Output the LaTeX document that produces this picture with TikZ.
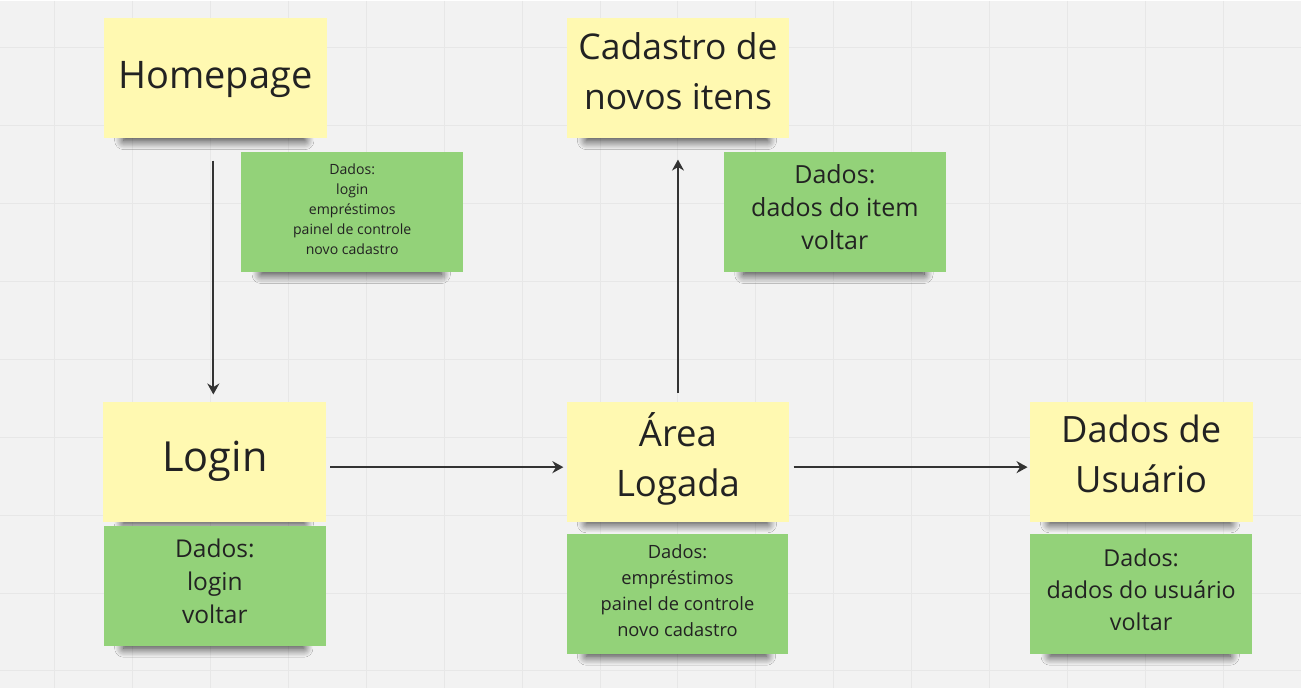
\documentclass[tikz,border=0pt]{standalone}
\usepackage{fontspec}
\setmainfont{Open Sans}
\usepackage{tikz}
\usetikzlibrary{arrows.meta,shadows.blur,backgrounds}

\definecolor{boardbg}{RGB}{242,242,242}
\definecolor{gridcol}{RGB}{231,231,231}
\definecolor{stickyyellow}{RGB}{255,249,177}
\definecolor{stickygreen}{RGB}{147,210,121}
\definecolor{inkcol}{RGB}{34,34,34}
\definecolor{arrowcol}{RGB}{51,51,51}

\tikzset{
    note/.style={inner sep=0pt, align=center, text=inkcol,
        execute at begin node=\strut, execute at end node=\strut},
    yellownote/.style={note, fill=stickyyellow, minimum width=223pt, minimum height=120pt},
    greennote/.style={note, fill=stickygreen, minimum width=222pt, minimum height=120pt},
    notedrop/.style={blur shadow={shadow xshift=0pt, shadow yshift=0pt,
        shadow blur radius=9pt, shadow blur steps=16, shadow opacity=80}},
    flow/.style={draw=arrowcol, line width=2pt, -{Stealth[length=11pt,width=12pt]}}
}

\begin{document}
\begin{tikzpicture}[x=1pt, y=-1pt]
        % board
        \begin{scope}[on background layer]
        \fill[boardbg] (0,0) rectangle (1301,688);
        \foreach \gx in {54,132,...,1300}
            \draw[gridcol, line width=1pt] (\gx,0) -- (\gx,688);
        \foreach \gy in {47,125,...,688}
            \draw[gridcol, line width=1pt] (0,\gy) -- (1301,\gy);
        \end{scope}
        \useasboundingbox (0,0) rectangle (1301,688);

        % pages
        \node[yellownote, font=\fontsize{38}{48}\selectfont] (home) at (215,78) {Homepage};
        \node[yellownote, font=\fontsize{35.5}{50}\selectfont] (cadastro) at (678,78) {Cadastro de\\novos itens};
        \node[yellownote, font=\fontsize{41.5}{50}\selectfont] (login) at (214.5,461.5) {Login};
        \node[yellownote, font=\fontsize{36.5}{50}\selectfont] (area) at (678,461.5) {Área\\Logada};
        \node[yellownote, font=\fontsize{36.3}{50}\selectfont] (usuario) at (1141.5,461.5) {Dados de\\Usuário};

        % dados
        \node[greennote, font=\fontsize{14.1}{20}\selectfont] (homedata) at (352,212)
            {Dados:\\login\\empréstimos\\painel de controle\\novo cadastro};
        \node[greennote, font=\fontsize{25}{33}\selectfont] (cadastrodata) at (835,212)
            {Dados:\\dados do item\\voltar};
        \node[greennote, font=\fontsize{24.5}{33}\selectfont] (logindata) at (214.5,586)
            {Dados:\\login\\voltar};
        \node[greennote, font=\fontsize{18.3}{26}\selectfont] (areadata) at (677.5,594)
            {Dados:\\empréstimos\\painel de controle\\novo cadastro};
        \node[greennote, font=\fontsize{23.3}{32}\selectfont] (usuariodata) at (1141.5,594)
            {Dados:\\dados do usuário\\voltar};

        % shadows under the notes
        \begin{scope}[on background layer]
        \foreach \n in {home,cadastro,login,area,usuario,homedata,cadastrodata,logindata,areadata,usuariodata}
            \path[notedrop] ([xshift=20pt,yshift=14pt]\n.south west) rectangle ([xshift=-22pt,yshift=-2pt]\n.south east);
        \end{scope}

        % flow
        \draw[flow, shorten <=22pt, shorten >=7pt] ([xshift=-2pt]home.south) -- ([xshift=-1.5pt]login.north);
        \draw[flow, shorten <=4pt, shorten >=3pt] ([yshift=-5.5pt]login.east) -- ([yshift=-5.5pt]area.west);
        \draw[flow, shorten <=9pt, shorten >=21pt] (area.north) -- (cadastro.south);
        \draw[flow, shorten <=4pt, shorten >=2pt] ([yshift=-5.5pt]area.east) -- ([yshift=-5.5pt]usuario.west);

    \end{tikzpicture}
\end{document}
